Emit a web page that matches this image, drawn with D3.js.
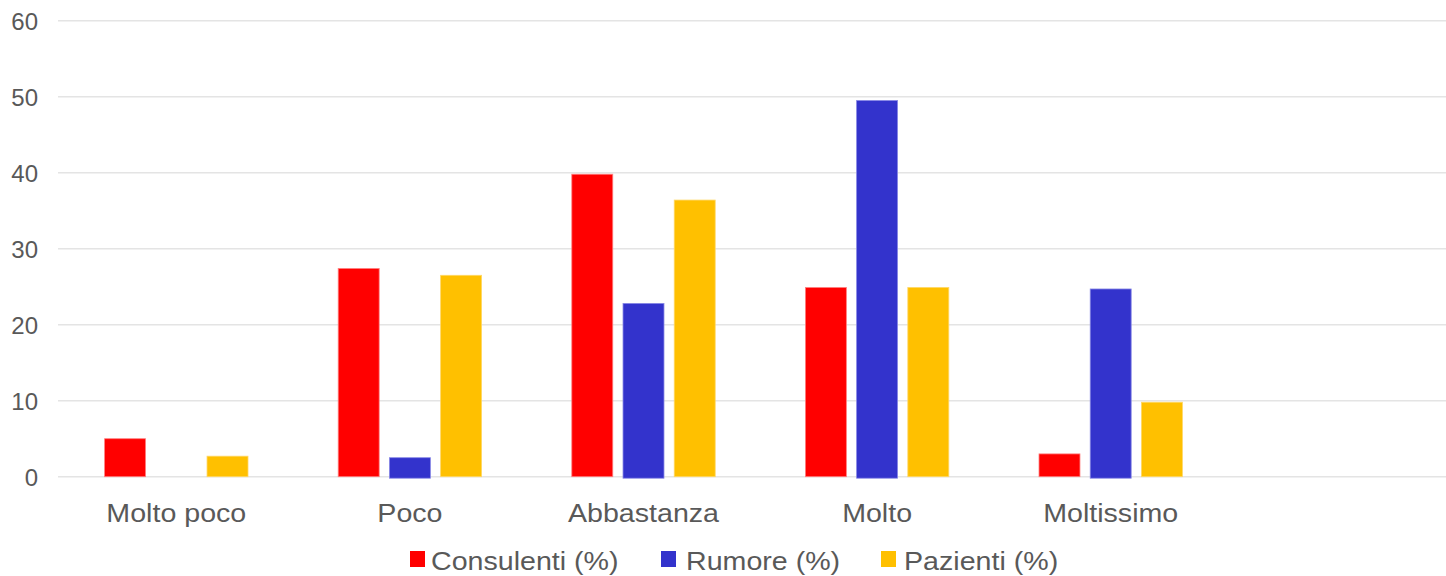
<!DOCTYPE html>
<html>
<head>
<meta charset="utf-8">
<script src="https://cdn.jsdelivr.net/npm/d3@7"></script>
<style>
  html, body { margin: 0; padding: 0; background: #fff; }
  svg { display: block; font-family: "Liberation Sans", Arial, sans-serif; }
</style>
</head>
<body>
<svg id="chart" width="1446" height="576"></svg>
<script>
const categories = ["Molto poco", "Poco", "Abbastanza", "Molto", "Moltissimo"];
const seriesNames = ["Consulenti (%)", "Rumore (%)", "Pazienti (%)"];
const consulenti = [5.0, 27.4, 39.8, 24.9, 3.0];
const rumore = [0, 2.5, 22.8, 49.5, 24.7];
const pazienti = [2.7, 26.5, 36.4, 24.9, 9.8];
const yTicks = [0, 10, 20, 30, 40, 50, 60];
const colors = ["#ff0000", "#3333cc", "#ffc000"];
const strokes = ["#ff8080", "#8888e6", "#ffd866"];

const seriesValues = [consulenti, rumore, pazienti];
const W = 1446, H = 576;
const svg = d3.select("#chart");
const textColor = "#595959";
const SX = 1.1; // horizontal stretch of text

const x0 = d3.scaleBand().domain(categories).range([59.5, 1227.5]).padding(0);
const bw0 = x0.bandwidth();
const x1 = d3.scaleBand().domain(seriesNames)
  .range([(bw0 - 143.4) / 2, (bw0 + 143.4) / 2]).paddingInner(0.2).paddingOuter(0);
const y = d3.scaleLinear().domain([0, 60]).range([476.7, 20.7]);

// gridlines
svg.append("g").selectAll("line").data(yTicks).join("line")
  .attr("x1", 58).attr("x2", W)
  .attr("y1", d => y(d)).attr("y2", d => y(d))
  .attr("stroke", "#e4e4e4").attr("stroke-width", 1.5);

// y axis labels
const yAxis = d3.axisLeft(y).tickValues(yTicks).tickSize(0).tickPadding(0);
const gy = svg.append("g").attr("transform", "translate(38,0)").call(yAxis);
gy.select(".domain").remove();
gy.selectAll("text").attr("fill", textColor).attr("font-size", 24)
  .attr("font-family", "'Liberation Sans', Arial, sans-serif").attr("dy", "0.35em");

// bars
const groups = svg.append("g").selectAll("g").data(categories).join("g")
  .attr("transform", c => `translate(${x0(c)},0)`);
groups.selectAll("rect")
  .data((c, ci) => seriesNames.map((s, si) => ({ s, si, v: seriesValues[si][ci] })))
  .join("rect")
  .filter(d => d.v > 0)
  .attr("x", d => x1(d.s))
  .attr("width", x1.bandwidth())
  .attr("y", d => y(d.v))
  .attr("height", d => y(0) - y(d.v) + (d.si === 1 ? 1.5 : 0))
  .attr("fill", d => colors[d.si])
  .attr("stroke", d => strokes[d.si])
  .attr("stroke-width", 0.8);

// x labels via axis
const xAxis = d3.axisBottom(x0).tickSize(0).tickPadding(0);
const gx = svg.append("g").attr("transform", "translate(0,0)").call(xAxis);
gx.select(".domain").remove();
gx.selectAll(".tick").each(function(d) {
  const t = d3.select(this);
  const tx = x0(d) + bw0 / 2;
  t.attr("transform", `translate(${tx},522) scale(${SX},1)`);
  t.select("text").attr("y", 0).attr("dy", 0)
    .attr("fill", textColor).attr("font-size", 26)
    .attr("font-family", "'Liberation Sans', Arial, sans-serif")
    .attr("text-anchor", "middle");
});

// legend
const legendItems = [
  { name: seriesNames[0], sq: 410, tx: 431 },
  { name: seriesNames[1], sq: 661, tx: 686 },
  { name: seriesNames[2], sq: 881, tx: 904 }
];
const lg = svg.append("g");
legendItems.forEach((it, i) => {
  lg.append("rect").attr("x", it.sq).attr("y", 551).attr("width", 15).attr("height", 16)
    .attr("fill", colors[i]);
  lg.append("text").attr("transform", `translate(${it.tx},570) scale(${SX},1)`)
    .attr("fill", textColor).attr("font-size", 26).text(it.name);
});
</script>
</body>
</html>
